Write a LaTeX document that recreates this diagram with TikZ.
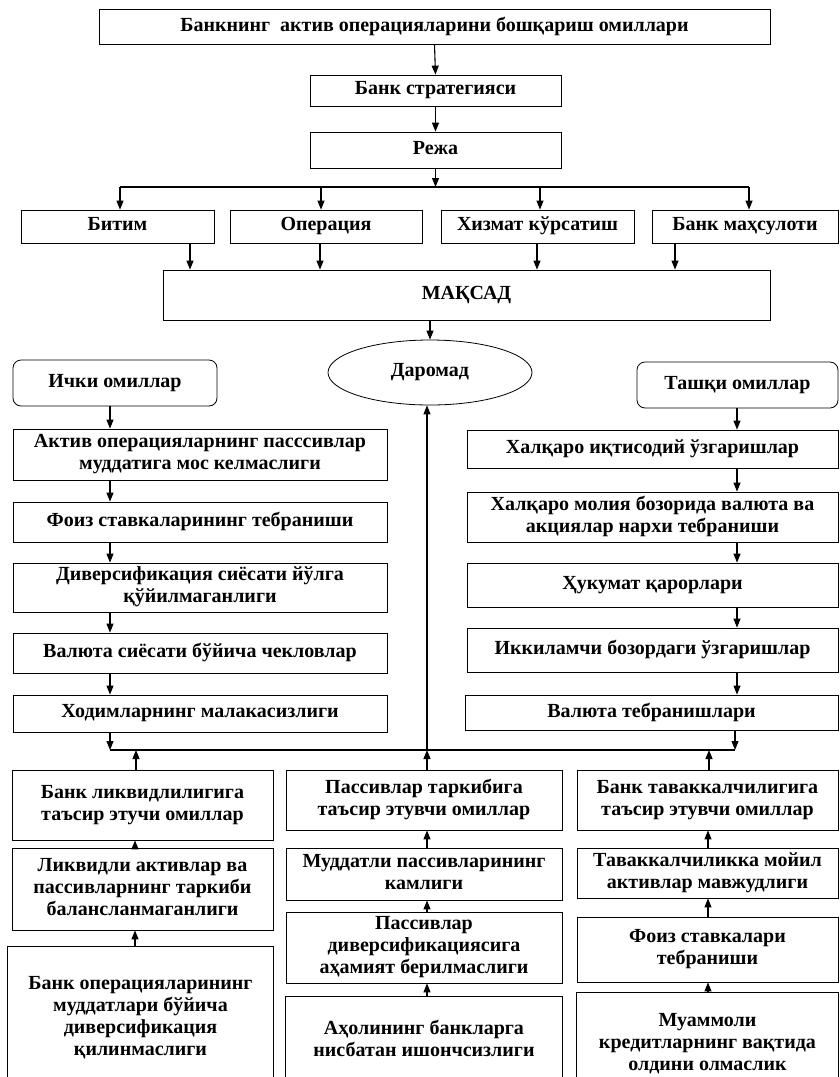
\documentclass[tikz,border=0pt]{standalone}
\usepackage{fontspec}
\setmainfont{Liberation Serif}
\usetikzlibrary{arrows.meta,shapes.geometric,calc}
\newcommand{\mystrut}{\rule[-5pt]{0pt}{17pt}}
\begin{document}
\begin{tikzpicture}[x=1pt,y=-1pt,
  txtfont/.style={font=\bfseries\fontsize{20}{22}\selectfont,
    execute at begin node={\mystrut}, execute at end node={\mystrut}},
  bx/.style={draw, line width=0.8pt, align=center, inner sep=1pt, txtfont},
  bxo/.style={align=center, inner sep=1pt, txtfont},
  sz/.style 2 args={minimum width=#1pt, minimum height=#2pt},
  rbx/.style={bx, rounded corners=8pt},
  arr/.style={line width=1.1pt, -{Triangle[length=9pt,width=7pt]}},
  ln/.style={line width=1.1pt},
  side/.style={line width=0.8pt}]
\useasboundingbox (0,0) rectangle (839,1077);
\coordinate (bot) at (0,1077);

% top chain
\node[bx, sz={671}{35}] (t0) at (434.5,26.5) {Банкнинг\ \ актив операцияларини бошқариш омиллари};
\node[bx, sz={251}{31}] (t1) at (435.5,90.5) {Банк стратегияси};
\node[bx, sz={251}{36}] (t2) at (435.5,150) {Режа};
\draw[arr] (t0.south) -- (t1.north);
\draw[arr] (t1.south) -- (t2.north);
\coordinate (brc) at (435.5,187);
\draw[arr] (t2.south) -- (brc);

% row
\node[bx, sz={193}{33}] (b1) at (117.5,226.5) {Битим};
\node[bx, sz={192}{33}] (b2) at (326,226.5) {Операция};
\node[bx, sz={193}{33}] (b3) at (537.5,226.5) {Хизмат кўрсатиш};
\node[bx, sz={186}{33}] (b4) at (745,226.5) {Банк маҳсулоти};
\coordinate (r1) at (120,187);
\coordinate (r2) at (321,187);
\coordinate (r3) at (540,187);
\coordinate (r4) at (749,187);
\draw[ln] (r1) -- (r4);
\draw[arr] (r1) -- (r1 |- b1.north);
\draw[arr] (r2) -- (r2 |- b2.north);
\draw[arr] (r3) -- (r3 |- b3.north);
\draw[arr] (r4) -- (r4 |- b4.north);

% goal
\node[bx, sz={607}{50}] (mk) at (466.5,295) {МАҚСАД};
\coordinate (m1) at (190,0);
\coordinate (m2) at (320,0);
\coordinate (m3) at (537,0);
\coordinate (m4) at (675,0);
\draw[arr] (m1 |- b1.south) -- (m1 |- mk.north);
\draw[arr] (m2 |- b2.south) -- (m2 |- mk.north);
\draw[arr] (m3 |- b3.south) -- (m3 |- mk.north);
\draw[arr] (m4 |- b4.south) -- (m4 |- mk.north);

\node[draw, ellipse, line width=0.8pt, inner sep=0pt, sz={204}{65}, txtfont] (dr) at (430,372.5) {Даромад};
\draw[arr] (mk.south -| dr.north) -- (dr.north);

% side headers
\node[rbx, sz={204}{46}] (ich) at (115,383) {Ички омиллар};
\node[rbx, sz={201}{46}] (tas) at (737.5,385) {Ташқи омиллар};

% left column
\node[bx, sz={374}{51}] (L1) at (200,454.5) {Актив операцияларнинг пасссивлар\\муддатига мос келмаслиги};
\node[bx, sz={374}{40}] (L2) at (200,522) {Фоиз ставкаларининг тебраниши};
\node[bx, sz={374}{49}] (L3) at (200,587.5) {Диверсификация сиёсати йўлга\\қўйилмаганлиги};
\node[bx, sz={374}{40}] (L4) at (200,653) {Валюта сиёсати бўйича чекловлар};
\node[bx, sz={374}{37}] (L5) at (200,713.5) {Ходимларнинг малакасизлиги};
\coordinate (lx) at (110,0);
\draw[arr] (lx |- ich.south) -- (lx |- L1.north);
\draw[arr] (lx |- L1.south) -- (lx |- L2.north);
\draw[arr] (lx |- L2.south) -- (lx |- L3.north);
\draw[arr] (lx |- L3.south) -- (lx |- L4.north);
\draw[arr] (lx |- L4.south) -- (lx |- L5.north);

% right column
\node[bx, sz={371}{38}] (R1) at (652.5,449) {Халқаро иқтисодий ўзгаришлар};
\node[bx, sz={371}{50}] (R2) at (652.5,517) {Халқаро молия бозорида валюта ва\\акциялар нархи тебраниши};
\node[bx, sz={371}{44}] (R3) at (652.5,585) {Ҳукумат қарорлари};
\node[bx, sz={371}{44}] (R4) at (652.5,650) {Иккиламчи бозордаги ўзгаришлар};
\node[bx, sz={373}{35}] (R5) at (651.5,712.5) {Валюта тебранишлари};
\coordinate (rx) at (737,0);
\draw[arr] (rx |- tas.south) -- (rx |- R1.north);
\draw[arr] (rx |- R1.south) -- (rx |- R2.north);
\draw[arr] (rx |- R2.south) -- (rx |- R3.north);
\draw[arr] (rx |- R3.south) -- (rx |- R4.north);
\draw[arr] (rx |- R4.south) -- (rx |- R5.north);

% junction
\coordinate (jl) at (110,750);
\coordinate (jr) at (735,750);
\coordinate (jc) at (427,750);
\coordinate (jb1) at (136,750);
\coordinate (jb3) at (709,750);
\draw[ln] (jl) -- (jr);
\draw[arr] (jl |- L5.south) -- (jl);
\draw[arr] (jr |- R5.south) -- (jr);
\draw[arr] (jc) -- (jc |- dr.south);

% bottom left
\node[bx, sz={261}{70}] (B1) at (142.5,805) {Банк ликвидлилигига\\таъсир этучи омиллар};
\node[bx, sz={261}{82}] (B2) at (142.5,889) {Ликвидли активлар ва\\пассивларнинг таркиби\\балансланмаганлиги};
\node[bxo, sz={265}{143}] (B3) at (140.5,1018.5) {Банк операцияларининг\\муддатлари бўйича\\диверсификация\\қилинмаслиги};
\draw[side] (B3.north west |- bot) -- (B3.north west) -- (B3.north east) -- (B3.north east |- bot);
\coordinate (bx1) at (135,0);
\draw[arr] (jb1 |- B1.north) -- (jb1);
\draw[arr] (bx1 |- B2.north) -- (bx1 |- B1.south);
\draw[arr] (bx1 |- B3.north) -- (bx1 |- B2.south);

% bottom middle
\node[bx, sz={276}{60}] (P1) at (424,800) {Пассивлар таркибига\\таъсир этувчи омиллар};
\node[bx, sz={276}{52}] (P2) at (424,874) {Муддатли пассивларининг\\камлиги};
\node[bx, sz={276}{71}] (P3) at (424,947.5) {Пассивлар\\диверсификациясига\\аҳамият берилмаслиги};
\node[bxo, sz={276}{88}] (P4) at (424,1041) {Аҳолининг банкларга\\нисбатан ишончсизлиги};
\draw[side] (P4.north west |- bot) -- (P4.north west) -- (P4.north east) -- (P4.north east |- bot);
\draw[arr] (jc |- P1.north) -- (jc);
\draw[arr] (jc |- P2.north) -- (jc |- P1.south);
\draw[arr] (jc |- P3.north) -- (jc |- P2.south);
\draw[arr] (jc |- P4.north) -- (jc |- P3.south);

% bottom right
\node[bx, sz={261}{60}] (Q1) at (707.5,800) {Банк таваккалчилигига\\таъсир этувчи омиллар};
\node[bx, sz={261}{50}] (Q2) at (707.5,873) {Таваккалчиликка мойил\\активлар мавжудлиги};
\node[bx, sz={261}{65}] (Q3) at (707.5,949.5) {Фоиз ставкалари\\тебраниши};
\node[bxo, sz={261}{102}] (Q4) at (707.5,1044) {Муаммоли\\кредитларнинг вақтида\\олдини олмаслик};
\draw[side] (Q4.north west |- bot) -- (Q4.north west) -- (Q4.north east) -- (Q4.north east |- bot);
\coordinate (qx) at (708,0);
\draw[arr] (jb3 |- Q1.north) -- (jb3);
\draw[arr] (qx |- Q2.north) -- (qx |- Q1.south);
\draw[arr] (qx |- Q3.north) -- (qx |- Q2.south);
\draw[arr] (qx |- Q4.north) -- (qx |- Q3.south);
\end{tikzpicture}
\end{document}
